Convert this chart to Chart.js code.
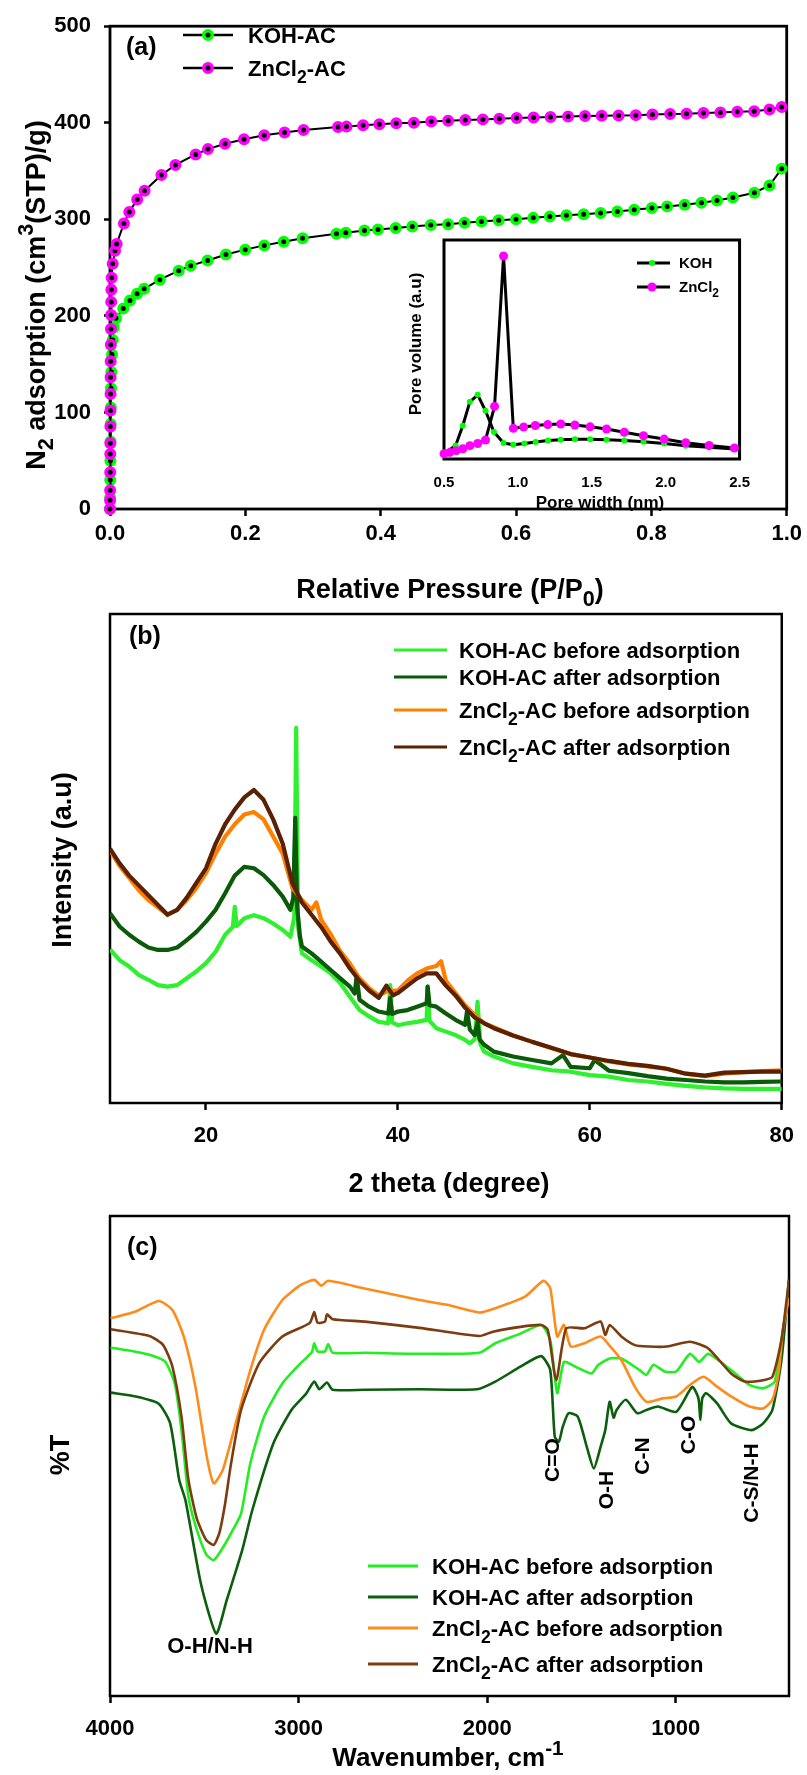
<!DOCTYPE html>
<html>
<head>
<meta charset="utf-8">
<script src="https://cdn.jsdelivr.net/npm/chart.js@4.4.1/dist/chart.umd.min.js"></script>
<style>
  html, body { margin: 0; padding: 0; background: #fff; }
  #wrap { position: relative; width: 807px; height: 1775px; overflow: hidden; }
  canvas { position: absolute; left: 0; }
</style>
</head>
<body>
<div id="wrap">
  <canvas id="chartA" width="807" height="620" style="top:0"></canvas>
  <canvas id="chartB" width="807" height="600" style="top:600px"></canvas>
  <canvas id="chartC" width="807" height="575" style="top:1200px"></canvas>
  <canvas id="chartInset" width="370" height="295" style="left:395px;top:225px"></canvas>
</div>
<script>
// (a) N2 adsorption isotherms: relative pressure P/P0 and adsorbed volume
const kohP = [0, 0.0002, 0.0004, 0.0006, 0.0008, 0.001, 0.0012, 0.0015, 0.002, 0.003, 0.004, 0.0055,
  0.0088, 0.0196, 0.0295, 0.040, 0.0505, 0.0736, 0.1016, 0.1193, 0.1443, 0.1713, 0.1998, 0.228,
  0.2567, 0.2847, 0.3346, 0.3485, 0.376, 0.396, 0.4222, 0.4467, 0.474, 0.4997, 0.5239, 0.549,
  0.5744, 0.6, 0.6254, 0.65, 0.6745, 0.70, 0.725, 0.7497, 0.7747, 0.8007, 0.8233, 0.8493, 0.874,
  0.897, 0.9205, 0.9523, 0.9745, 0.9926];
const kohV = [0, 12, 30, 50, 70, 88, 105, 125, 142, 160, 175, 188,
  197.5, 207.7, 216, 223, 228, 237.5, 246.8, 252, 257.4, 263.5, 268.6, 273,
  276.8, 280.3, 285, 286, 288.5, 289.5, 290.9, 292.6, 294, 295, 296.4, 297.7,
  299, 300.1, 301.5, 302.9, 304.2, 305.3, 306.6, 308, 310, 311.7, 313.4, 315.2, 317.2,
  319.6, 322.7, 327.5, 335, 352.5];
const znP = [0, 0.0001, 0.0002, 0.0003, 0.0004, 0.0005, 0.0006, 0.0007, 0.0008, 0.0009, 0.001,
  0.0012, 0.0014, 0.0016, 0.0018, 0.002, 0.0025, 0.004, 0.0074, 0.0098, 0.0206, 0.0285, 0.0402,
  0.0511, 0.076, 0.0967, 0.1266, 0.1448, 0.170, 0.198, 0.228, 0.258, 0.286, 0.337, 0.3495, 0.374,
  0.398, 0.423, 0.449, 0.4747, 0.4997, 0.525, 0.551, 0.5753, 0.601, 0.626, 0.651, 0.677, 0.702,
  0.7266, 0.7516, 0.777, 0.8017, 0.8277, 0.852, 0.877, 0.902, 0.927, 0.952, 0.9745, 0.9926];
const znV = [0, 9, 19.5, 38, 57, 68, 85.5, 102, 119, 136.5, 153,
  170, 186.5, 201, 214.5, 227, 239.5, 254, 267.5, 274.5, 295.7, 307.7, 320.6,
  329.6, 346, 356.3, 367.2, 372.7, 378.2, 383, 387, 389.8, 392.5, 395.6, 396, 397.4,
  398.4, 399.4, 400, 401.4, 402.1, 402.8, 403.5, 404.2, 404.9, 405.5, 405.9, 406.6, 406.9,
  407.3, 407.6, 407.9, 408.6, 409, 409.3, 410, 410.7, 411.4, 412, 413.8, 416.2];

// inset: pore size distribution (pore width nm, pore volume a.u.)
const poreKohW = [0.5, 0.579, 0.627, 0.675, 0.728, 0.781, 0.838, 0.903, 0.969, 1.044, 1.12, 1.204,
  1.29, 1.386, 1.489, 1.60, 1.72, 1.85, 1.99, 2.136, 2.294, 2.465];
const poreKohV = [2.4, 6.2, 15.2, 26.1, 29.3, 22.0, 12.3, 7.3, 6.5, 7.1, 7.8, 8.4,
  8.8, 9.0, 9.0, 8.8, 8.5, 7.9, 7.1, 6.0, 5.4, 4.6];
const poreZnW = [0.5, 0.539, 0.583, 0.627, 0.675, 0.728, 0.781, 0.842, 0.903, 0.969, 1.039, 1.118,
  1.202, 1.29, 1.386, 1.489, 1.60, 1.72, 1.85, 1.99, 2.136, 2.294, 2.465];
const poreZnV = [2.4, 3.0, 3.8, 4.7, 6.1, 7.1, 8.7, 24.0, 92.7, 14.0, 14.6, 15.3,
  15.7, 16.0, 15.5, 14.7, 13.7, 12.2, 10.6, 9.1, 7.4, 6.2, 5.0];

// (b) XRD patterns: 2 theta (degree) and intensity (a.u.)
const xrdKohBeforeX = [10, 11, 12, 13, 14, 15, 16, 17, 18, 19, 20, 21, 22, 22.8, 23.0, 23.2, 24, 25, 26, 27, 28,
  28.8, 29.2, 29.4, 29.6, 30, 31, 32, 33, 34, 35, 36, 37, 38, 39, 39.2, 39.4, 40, 41, 42, 43, 43.1, 43.3,
  44, 45, 46, 47, 47.5, 48, 48.3, 48.6, 49, 50, 52, 54, 56, 58, 60, 62, 64, 66, 68, 70, 72, 74, 76, 78, 80];
const xrdKohBeforeY = [31.4, 29.2, 27.9, 26.2, 25.2, 24.1, 23.8, 24.1, 25.5, 26.9, 28.6, 30.9, 34.4, 36.0, 40.1, 36.2,
  37.8, 38.4, 37.8, 36.7, 35.4, 34.0, 38.0, 76.7, 36.0, 30.6, 29.2, 27.9, 26.5, 24.5, 21.7, 19.0, 17.7, 16.6,
  16.3, 24.1, 16.5, 15.9, 16.3, 16.6, 17.0, 23.8, 16.8, 15.3, 14.6, 13.9, 12.9, 12.2, 13.0, 20.7, 12.0, 10.5,
  9.5, 8.1, 7.4, 6.7, 6.4, 5.7, 5.4, 4.7, 4.4, 3.9, 3.5, 3.2, 3.0, 2.9, 2.9, 2.9];
const xrdKohAfterX = [10, 11, 12, 13, 14, 15, 16, 17, 18, 19, 20, 21, 22, 23, 24, 25, 26, 27, 28, 28.8, 29.1, 29.3,
  29.5, 29.8, 30, 31, 32, 33, 34, 35, 35.5, 35.7, 36, 37, 38, 39, 39.2, 39.4, 40, 41, 42, 43, 43.1, 43.3, 44,
  45, 46, 47, 47.2, 47.5, 48, 48.3, 48.5, 49, 50, 52, 54, 56, 57.2, 58, 60, 60.5, 62, 64, 66, 68, 70, 72, 74,
  76, 78, 80];
const xrdKohAfterY = [38.8, 36.1, 34.4, 33.0, 31.8, 31.3, 31.3, 31.8, 33.3, 35.0, 37.1, 39.5, 42.9, 46.5, 48.3, 48.0,
  46.6, 44.6, 42.2, 39.5, 42, 58.3, 40, 34, 32.0, 30.6, 28.9, 27.2, 25.5, 23.8, 22.4, 26, 21.1, 19.7, 18.7,
  18.3, 21.5, 18.2, 18.7, 19.0, 19.7, 20.4, 23.8, 20.0, 19.7, 18.3, 17.0, 16.0, 18.7, 15.0, 13.9, 16.5, 13.0,
  11.9, 10.5, 9.5, 8.8, 8.1, 9.8, 7.4, 7.1, 8.8, 6.6, 6.1, 5.5, 5.0, 4.7, 4.4, 4.2, 4.2, 4.3, 4.4];
const xrdZnBeforeX = [10, 11, 12, 13, 14, 15, 16, 17, 18, 19, 20, 21, 22, 23, 24, 25, 26, 27, 28, 29, 30, 31, 31.5,
  32, 33, 34, 35, 36, 37, 38, 39, 40, 41, 42, 43, 44, 44.5, 45, 46, 47, 48, 49, 50, 52, 54, 56, 58, 60, 62,
  64, 66, 68, 70, 72, 74, 76, 78, 80];
const xrdZnBeforeY = [51.7, 48.5, 46, 43.5, 41.5, 40, 38.5, 39.5, 41.5, 44, 47, 51, 54.5, 57, 59, 59.5, 58, 54.5,
  51, 44, 41.5, 39.5, 41, 37.5, 34.5, 31, 28.5, 25.5, 23.5, 22, 23, 23, 25, 26.5, 27.5, 28, 29, 25, 22.5, 20,
  18, 16.3, 15.5, 13.8, 12.5, 11.2, 10, 9.3, 8.5, 7.9, 7.5, 7.0, 6.0, 5.5, 6.0, 6.3, 6.5, 6.7];
const xrdZnAfterX = [10, 11, 12, 13, 14, 15, 16, 17, 18, 19, 20, 21, 22, 23, 24, 25, 26, 27, 28, 29, 30, 31, 32,
  33, 34, 35, 36, 37, 38, 38.8, 39.5, 40, 41, 42, 43, 44, 45, 46, 47, 48, 49, 50, 52, 54, 56, 58, 60, 62, 64,
  66, 68, 70, 72, 74, 76, 78, 80];
const xrdZnAfterY = [52, 49, 46.5, 44.5, 42.5, 40.5, 38.5, 39.5, 42, 45, 48, 53, 57, 60, 62.5, 64, 62, 58, 53, 45,
  41, 38.5, 36, 33, 30.5, 27.5, 25, 23, 21.5, 24, 22, 22.5, 24, 25.5, 26.5, 26.5, 24, 22, 19.5, 17.5, 16.3,
  15.3, 13.8, 12.5, 11.3, 10, 9.3, 8.6, 8, 7.6, 7.0, 6, 5.6, 6.2, 6.3, 6.4, 6.4];

// (c) FTIR spectra: wavenumber (cm-1) and %T (a.u.)
const ftirKohBeforeW = [3997, 3864, 3766, 3706, 3657, 3621, 3584, 3545, 3490, 3450, 3400, 3350, 3305, 3256, 3183,
  3086, 2990, 2930, 2917, 2900, 2860, 2843, 2819, 2650, 2359, 2042, 1957, 1824, 1714, 1666, 1629, 1593, 1532,
  1447, 1411, 1351, 1289, 1192, 1156, 1119, 1059, 998, 925, 877, 828, 707, 610, 537, 476, 440, 400];
const ftirKohBeforeT = [72.6, 71.7, 70.8, 69.6, 65.1, 55.4, 41.5, 35.3, 29.5, 28.3, 31, 34.5, 38, 48.5, 58.2,
  65.1, 69.3, 71.6, 73.5, 71.8, 71.8, 73.3, 71.5, 71.5, 71.3, 71.5, 73.5, 75.5, 77.3, 74.2, 63.1, 69.6, 68.6,
  67.2, 69, 70.3, 70.3, 67.9, 66.9, 69, 67.6, 67.6, 71.3, 69.6, 71.3, 67.9, 64.8, 64.1, 65.5, 74.2, 84.6];
const ftirKohAfterW = [3997, 3864, 3742, 3681, 3633, 3600, 3518, 3437, 3381, 3299, 3245, 3134, 3038, 2960, 2917,
  2890, 2850, 2819, 2650, 2359, 2055, 1957, 1824, 1714, 1666, 1642, 1620, 1600, 1569, 1520, 1472, 1435, 1399,
  1374, 1351, 1330, 1314, 1265, 1204, 1156, 1095, 998, 913, 880, 870, 860, 840, 780, 707, 597, 537, 488, 440, 400];
const ftirKohAfterT = [63.2, 62.4, 60.9, 56.8, 45, 40.8, 23.4, 13, 20, 30.4, 38.8, 52.6, 59.6, 63, 65.5,
  63.9, 65.3, 63.8, 63.8, 63.9, 63.9, 65.5, 68.6, 70.8, 67.9, 54, 53, 56, 58.9, 58.2, 51.9, 47.4, 51.9,
  55.4, 61.3, 58, 59.6, 61.7, 58.9, 59.6, 60.3, 59.2, 64.4, 62, 57.5, 62, 63.1, 60.9, 56.8, 55.4, 56.8, 59.6, 70, 86.7];
const ftirZnBeforeW = [3997, 3864, 3742, 3669, 3609, 3547, 3487, 3450, 3402, 3329, 3256, 3183, 3086, 2990, 2917,
  2880, 2843, 2650, 2359, 2212, 2042, 1957, 1799, 1702, 1666, 1629, 1593, 1557, 1484, 1399, 1347, 1289, 1217,
  1156, 1071, 998, 925, 853, 780, 707, 610, 537, 488, 453, 432, 400];
const ftirZnBeforeT = [78.7, 80.1, 82.3, 80.4, 74.9, 64.4, 49.9, 44.3, 47.1, 57.5, 67.9, 76.3, 82.5, 85.6, 86.7,
  85.5, 86.5, 84.9, 82.5, 81.5, 79.9, 80.8, 83.2, 86.5, 85, 74.9, 77.3, 72.8, 73.5, 74.9, 72.8, 70, 64.4,
  61.3, 62, 62.4, 64.8, 66.5, 64.4, 62.4, 60.3, 59.9, 61.7, 67.9, 76.3, 82.9];
const ftirZnAfterW = [3997, 3791, 3718, 3669, 3621, 3584, 3540, 3490, 3450, 3420, 3390, 3360, 3305, 3208, 3086,
  2941, 2917, 2900, 2860, 2850, 2819, 2650, 2359, 2042, 1969, 1824, 1714, 1679, 1634, 1581, 1484, 1399, 1374,
  1351, 1289, 1217, 1144, 1047, 925, 828, 707, 633, 537, 488, 440, 400];
const ftirZnAfterT = [76.4, 75, 73.1, 68.6, 58.2, 45, 37, 32.5, 31.5, 34, 40, 48, 59.6, 69.4, 74.9,
  77.7, 80, 77.8, 78, 79.5, 78.5, 78, 76.7, 75, 75.9, 76.9, 77.3, 76.3, 65.8, 76.6, 76.6, 78, 75.2,
  77.3, 74.9, 73.1, 72.8, 72.8, 73.8, 72.4, 67.2, 65.5, 65.8, 66.5, 74.2, 86.7];

// tick values
const pressureTicks = [0, 0.2, 0.4, 0.6, 0.8, 1.0];
const adsorptionTicks = [0, 100, 200, 300, 400, 500];
const poreTicks = [0.5, 1.0, 1.5, 2.0, 2.5];
const thetaTicks = [20, 40, 60, 80];
const waveTicks = [4000, 3000, 2000, 1000];

// series labels (text parts: [text, 'sub'|'sup'])
const isoLabels = [[['KOH-AC']], [['ZnCl'], ['2', 'sub'], ['-AC']]];
const poreLabels = [[['KOH']], [['ZnCl'], ['2', 'sub']]];
const sampleLabels = [
  [['KOH-AC before adsorption']],
  [['KOH-AC after adsorption']],
  [['ZnCl'], ['2', 'sub'], ['-AC before adsorption']],
  [['ZnCl'], ['2', 'sub'], ['-AC after adsorption']]
];
const bandLabels = ['C=O', 'O-H', 'C-N', 'C-O', 'C-S/N-H'];

const FONT = '"Liberation Sans", Arial, sans-serif';
const GREEN = '#00ff00', MAGENTA = '#ff00ff';
const xrdColors = ['#2ef02e', '#0a5a0a', '#ff8000', '#5b2105'];
const ftirColors = ['#22ee22', '#0b5e0b', '#ff8c1a', '#7c3c10'];

const pts = (xs, ys) => xs.map((x, i) => ({ x: x, y: ys[i] }));

// draw text with sub / superscripts, (x, y) = visual middle of capitals
function richText(ctx, parts, x, y, size, opts) {
  const o = Object.assign({ align: 'left', angle: 0 }, opts || {});
  ctx.save();
  ctx.translate(x, y);
  if (o.angle) ctx.rotate(o.angle);
  ctx.fillStyle = '#000';
  ctx.textBaseline = 'alphabetic';
  const items = parts.map(p => {
    const s = p[1] ? size * 0.8 : size;
    ctx.font = 'bold ' + s + 'px ' + FONT;
    return { t: p[0], m: p[1], s: s, w: ctx.measureText(p[0]).width };
  });
  const total = items.reduce((a, b) => a + b.w, 0);
  let cx = o.align === 'center' ? -total / 2 : (o.align === 'right' ? -total : 0);
  items.forEach(it => {
    ctx.font = 'bold ' + it.s + 'px ' + FONT;
    let dy = size * 0.36;
    if (it.m === 'sub') dy += size * 0.3;
    if (it.m === 'sup') dy -= size * 0.45;
    ctx.fillText(it.t, cx, dy);
    cx += it.w;
  });
  ctx.restore();
}

function frame(width, fill) {
  return {
    id: 'frame',
    beforeDatasetsDraw(chart) {
      const a = chart.chartArea, ctx = chart.ctx;
      ctx.save();
      if (fill) {
        ctx.fillStyle = '#fff';
        ctx.fillRect(a.left, a.top, a.right - a.left, a.bottom - a.top);
      }
      ctx.lineWidth = width;
      ctx.strokeStyle = '#000';
      ctx.strokeRect(a.left, a.top, a.right - a.left, a.bottom - a.top);
      ctx.restore();
    }
  };
}

function lineKey(ctx, x1, x2, y, color, width) {
  ctx.save();
  ctx.strokeStyle = color;
  ctx.lineWidth = width;
  ctx.beginPath();
  ctx.moveTo(x1, y);
  ctx.lineTo(x2, y);
  ctx.stroke();
  ctx.restore();
}

function dot(ctx, x, y, r, fill, ring, ringWidth) {
  ctx.save();
  ctx.beginPath();
  ctx.arc(x, y, r, 0, Math.PI * 2);
  ctx.fillStyle = fill;
  ctx.fill();
  if (ring) {
    ctx.lineWidth = ringWidth;
    ctx.strokeStyle = ring;
    ctx.stroke();
  }
  ctx.restore();
}

function xAxis(opts) {
  return {
    type: 'linear',
    min: opts.min, max: opts.max, reverse: !!opts.reverse,
    afterBuildTicks: s => { s.ticks = opts.ticks.map(v => ({ value: v })); },
    afterFit: s => { s.height = opts.height; },
    border: { display: false },
    grid: opts.tickLength ? { drawOnChartArea: false, tickLength: opts.tickLength, tickWidth: 2.5, tickColor: '#000' }
                          : { display: false, drawTicks: false },
    ticks: {
      autoSkip: false, maxRotation: 0, color: '#000', padding: opts.padding,
      font: { family: FONT, size: opts.fontSize, weight: 'bold' },
      callback: opts.format
    }
  };
}

const baseOptions = (padding, scales) => ({
  responsive: false, animation: false, devicePixelRatio: 1,
  layout: { autoPadding: false, padding: padding },
  plugins: { legend: { display: false }, tooltip: { enabled: false } },
  scales: scales
});

// ---------------- (a) ----------------
const decorA = {
  id: 'decorA',
  afterDraw(chart) {
    const ctx = chart.ctx;
    richText(ctx, [['N'], ['2', 'sub'], [' adsorption (cm'], ['3', 'sup'], ['(STP)/g)']], 35, 295, 27,
      { align: 'center', angle: -Math.PI / 2 });
    richText(ctx, [['Relative Pressure (P/P'], ['0', 'sub'], [')']], 450, 588, 27, { align: 'center' });
    richText(ctx, [['(a)']], 126, 46, 25);
    const rings = [GREEN, MAGENTA];
    [35, 68].forEach((y, i) => {
      lineKey(ctx, 183, 233, y, '#000', 2.5);
      dot(ctx, 208, y, 4.25, '#000', rings[i], 3.5);
      richText(ctx, isoLabels[i], 248, y, 22);
    });
  }
};

new Chart(document.getElementById('chartA'), {
  type: 'scatter',
  data: {
    datasets: [
      { label: 'KOH-AC', data: pts(kohP, kohV), showLine: true, borderColor: '#000', borderWidth: 2,
        pointRadius: 4.25, pointBorderWidth: 3.5, pointBackgroundColor: '#000', pointBorderColor: GREEN,
        order: 2, clip: false },
      { label: 'ZnCl2-AC', data: pts(znP, znV), showLine: true, borderColor: '#000', borderWidth: 2,
        pointRadius: 4.25, pointBorderWidth: 3.5, pointBackgroundColor: '#000', pointBorderColor: MAGENTA,
        order: 1, clip: false }
    ]
  },
  options: baseOptions({ left: 0, top: 22, right: 18, bottom: 0 }, {
    x: xAxis({ min: 0, max: 1, ticks: pressureTicks, height: 111, tickLength: 7, padding: 5, fontSize: 22,
      format: v => v.toFixed(1) }),
    y: {
      type: 'linear', min: 0, max: 500,
      afterBuildTicks: s => { s.ticks = adsorptionTicks.map(v => ({ value: v })); },
      afterFit: s => { s.width = 110; },
      border: { display: false },
      grid: { drawOnChartArea: false, tickLength: 6, tickWidth: 2.5, tickColor: '#000' },
      ticks: { color: '#000', padding: 13, font: { family: FONT, size: 22, weight: 'bold' } }
    }
  }),
  plugins: [frame(2.8), decorA]
});

// inset: pore size distribution
const decorInset = {
  id: 'decorInset',
  afterDraw(chart) {
    const ctx = chart.ctx;
    richText(ctx, [['Pore volume (a.u)']], 20, 119, 17, { align: 'center', angle: -Math.PI / 2 });
    richText(ctx, [['Pore width (nm)']], 205, 277, 17, { align: 'center' });
    lineKey(ctx, 242, 275, 38, '#000', 3);
    dot(ctx, 257, 38, 3, GREEN);
    richText(ctx, poreLabels[0], 284, 38, 15);
    lineKey(ctx, 242, 275, 62, '#000', 3);
    dot(ctx, 257, 62, 4.5, MAGENTA);
    richText(ctx, poreLabels[1], 284, 62, 15);
  }
};

new Chart(document.getElementById('chartInset'), {
  type: 'scatter',
  data: {
    datasets: [
      { label: 'KOH', data: pts(poreKohW, poreKohV), showLine: true, borderColor: '#000', borderWidth: 3,
        pointRadius: 3, pointBorderWidth: 0, pointBackgroundColor: GREEN, order: 2, clip: false },
      { label: 'ZnCl2', data: pts(poreZnW, poreZnV), showLine: true, borderColor: '#000', borderWidth: 3,
        pointRadius: 4.5, pointBorderWidth: 0, pointBackgroundColor: MAGENTA, order: 1, clip: false }
    ]
  },
  options: baseOptions({ left: 49, top: 15, right: 17, bottom: 0 }, {
    x: xAxis({ min: 0.5, max: 2.5, ticks: poreTicks, height: 61, padding: 15, fontSize: 15,
      format: v => v.toFixed(1) }),
    y: { type: 'linear', min: 0, max: 100, display: false }
  }),
  plugins: [frame(3, true), decorInset]
});

// ---------------- (b) ----------------
const decorB = {
  id: 'decorB',
  afterDraw(chart) {
    const ctx = chart.ctx;
    richText(ctx, [['(b)']], 129, 35, 25);
    richText(ctx, [['Intensity (a.u)']], 61, 260, 27, { align: 'center', angle: -Math.PI / 2 });
    richText(ctx, [['2 theta (degree)']], 449, 582, 27, { align: 'center' });
    [50, 77, 110, 147].forEach((y, i) => {
      lineKey(ctx, 394, 447, y, xrdColors[i], 3);
      richText(ctx, sampleLabels[i], 459, y, 22);
    });
  }
};

const xrdSeries = [[xrdKohBeforeX, xrdKohBeforeY], [xrdKohAfterX, xrdKohAfterY],
  [xrdZnBeforeX, xrdZnBeforeY], [xrdZnAfterX, xrdZnAfterY]];

new Chart(document.getElementById('chartB'), {
  type: 'scatter',
  data: {
    datasets: xrdSeries.map((s, i) => ({
      data: pts(s[0], s[1]), showLine: true, borderColor: xrdColors[i], borderWidth: 4.2,
      borderJoinStyle: 'round', pointRadius: 0, order: 4 - i
    }))
  },
  options: baseOptions({ left: 110, top: 14, right: 20, bottom: 0 }, {
    x: xAxis({ min: 10, max: 80, ticks: thetaTicks, height: 97, tickLength: 7, padding: 13, fontSize: 22,
      format: v => String(v) }),
    y: { type: 'linear', min: 0, max: 100, display: false }
  }),
  plugins: [frame(2.5), decorB]
});

// ---------------- (c) ----------------
const bandPos = [[551, 260], [605, 290], [641, 256], [687, 235], [750, 283]];
const decorC = {
  id: 'decorC',
  afterDraw(chart) {
    const ctx = chart.ctx;
    richText(ctx, [['(c)']], 127, 46, 25);
    richText(ctx, [['%T']], 59, 255, 27, { align: 'center', angle: -Math.PI / 2 });
    richText(ctx, [['Wavenumber, cm'], ['-1', 'sup']], 448, 557, 26, { align: 'center' });
    bandLabels.forEach((t, i) => {
      richText(ctx, [[t]], bandPos[i][0], bandPos[i][1], 21, { align: 'center', angle: -Math.PI / 2 });
    });
    richText(ctx, [['O-H/N-H']], 210, 445, 22, { align: 'center' });
    [366, 397, 428, 464].forEach((y, i) => {
      lineKey(ctx, 368, 418, y, ftirColors[i], 3);
      richText(ctx, sampleLabels[i], 432, y, 22);
    });
  }
};

const ftirSeries = [[ftirKohBeforeW, ftirKohBeforeT], [ftirKohAfterW, ftirKohAfterT],
  [ftirZnBeforeW, ftirZnBeforeT], [ftirZnAfterW, ftirZnAfterT]];

new Chart(document.getElementById('chartC'), {
  type: 'scatter',
  data: {
    datasets: ftirSeries.map((s, i) => ({
      data: pts(s[0], s[1]), showLine: true, borderColor: ftirColors[i], borderWidth: 2.6,
      pointRadius: 0, tension: 0.2, order: 4 - i
    }))
  },
  options: baseOptions({ left: 110, top: 16, right: 18, bottom: 0 }, {
    x: xAxis({ min: 400, max: 4000, reverse: true, ticks: waveTicks, height: 79, tickLength: 7, padding: 13,
      fontSize: 22, format: v => String(v) }),
    y: { type: 'linear', min: 0, max: 100, display: false }
  }),
  plugins: [frame(2.5), decorC]
});
</script>
</body>
</html>
